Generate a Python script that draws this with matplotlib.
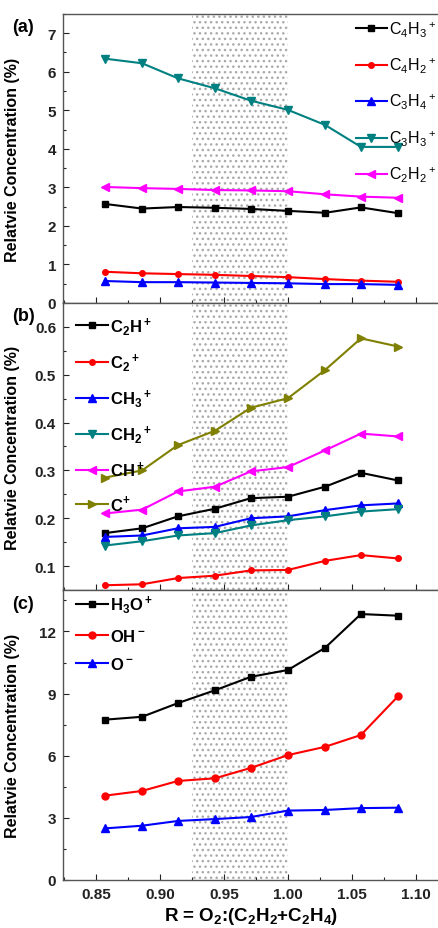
import numpy as np
import matplotlib
matplotlib.use('Agg')
import matplotlib.pyplot as plt
from matplotlib.ticker import MultipleLocator

plt.rcParams['font.family'] = ['Liberation Sans', 'DejaVu Sans']
plt.rcParams['hatch.color'] = '#aaaaaa'
plt.rcParams['hatch.linewidth'] = 1.0

# R = O2:(C2H2+C2H4)
ratio = [0.857, 0.886, 0.914, 0.943, 0.971, 1.000, 1.029, 1.057, 1.086]

# (a) large hydrocarbon ions
c4h3 = [2.57, 2.45, 2.49, 2.47, 2.44, 2.39, 2.34, 2.48, 2.33]
c4h2 = [0.81, 0.77, 0.75, 0.73, 0.70, 0.67, 0.62, 0.58, 0.55]
c3h4 = [0.57, 0.54, 0.54, 0.53, 0.52, 0.51, 0.49, 0.49, 0.47]
c3h3 = [6.34, 6.22, 5.83, 5.57, 5.25, 5.01, 4.62, 4.05, 4.05]
c2h2 = [3.01, 2.98, 2.96, 2.93, 2.92, 2.90, 2.82, 2.76, 2.73]

# (b) small hydrocarbon ions
c2h = [0.169, 0.179, 0.204, 0.220, 0.242, 0.245, 0.266, 0.295, 0.279]
c2 = [0.060, 0.062, 0.075, 0.080, 0.091, 0.092, 0.111, 0.123, 0.116]
ch3 = [0.161, 0.164, 0.179, 0.182, 0.200, 0.204, 0.217, 0.227, 0.231]
ch2 = [0.143, 0.152, 0.164, 0.169, 0.185, 0.196, 0.204, 0.214, 0.219]
ch = [0.210, 0.218, 0.256, 0.266, 0.298, 0.307, 0.342, 0.377, 0.371]
c1 = [0.285, 0.300, 0.353, 0.383, 0.431, 0.451, 0.510, 0.576, 0.559]

# (c) oxygen containing ions
h3o = [7.74, 7.88, 8.54, 9.16, 9.81, 10.14, 11.21, 12.84, 12.76]
oh = [4.07, 4.30, 4.78, 4.91, 5.41, 6.03, 6.43, 7.00, 8.87]
o1 = [2.49, 2.62, 2.85, 2.94, 3.04, 3.35, 3.38, 3.47, 3.49]

shade = (0.925, 1.0)

fig = plt.figure(figsize=(4.39, 9.29), dpi=100)
left, right = 0.1435, 1.0
ax_a = fig.add_axes([left, 0.6728, right - left, 0.9839 - 0.6728])
ax_b = fig.add_axes([left, 0.3638, right - left, 0.6728 - 0.3638])
ax_c = fig.add_axes([left, 0.0517, right - left, 0.3638 - 0.0517])


def style(ax, ylim, major, minor, show_x):
    ax.set_xlim(0.8242, 1.118)
    ax.set_ylim(*ylim)
    ax.axvspan(shade[0], shade[1], facecolor='none', edgecolor='#aaaaaa',
               hatch='...', linewidth=0, zorder=0)
    ax.xaxis.set_major_locator(MultipleLocator(0.05))
    ax.xaxis.set_minor_locator(MultipleLocator(0.025))
    ax.yaxis.set_major_locator(MultipleLocator(major))
    ax.yaxis.set_minor_locator(MultipleLocator(minor))
    ax.tick_params(which='both', direction='in', top=False, right=False,
                   labelsize=11, colors='#222222', pad=5)
    ax.tick_params(which='major', length=4, width=0.8)
    ax.tick_params(which='minor', length=2.5, width=0.8)
    for lab in ax.get_yticklabels() + ax.get_xticklabels():
        lab.set_fontweight('bold')
    ax.spines['right'].set_visible(False)
    for s in ['left', 'top', 'bottom']:
        ax.spines[s].set_color('#555555')
        ax.spines[s].set_linewidth(1.0)
    if not show_x:
        ax.tick_params(axis='x', labelbottom=False)
    ax.set_ylabel('Relatvie Concentration (%)', fontsize=11.5,
                  fontweight='bold')
    ax.yaxis.set_label_coords(-0.115, 0.5)


lw = 1.5
ms = 5

ax_a.plot(ratio, c4h3, '-s', color='black', lw=lw, ms=ms, label=r'$\mathregular{C_4H_3{}^+}$')
ax_a.plot(ratio, c4h2, '-o', color='red', lw=lw, ms=4, label=r'$\mathregular{C_4H_2{}^+}$')
ax_a.plot(ratio, c3h4, '-^', color='blue', lw=lw, ms=ms + 1, label=r'$\mathregular{C_3H_4{}^+}$')
ax_a.plot(ratio, c3h3, '-v', color='#008080', lw=lw, ms=ms + 1, label=r'$\mathregular{C_3H_3{}^+}$')
ax_a.plot(ratio, c2h2, '-<', color='#ff00ff', lw=lw, ms=ms + 1, label=r'$\mathregular{C_2H_2{}^+}$')
style(ax_a, (0, 7.5), 1, 0.5, False)
ax_a.legend(loc='upper left', bbox_to_anchor=(0.75, 1.02), frameon=False,
            fontsize=11.5, handlelength=1.9, handletextpad=0.15,
            labelspacing=1.07, borderpad=0.2)

ax_b.plot(ratio, c2h, '-s', color='black', lw=lw, ms=ms, label=r'$\mathregular{C_2H^+}$')
ax_b.plot(ratio, c2, '-o', color='red', lw=lw, ms=4, label=r'$\mathregular{C_2{}^+}$')
ax_b.plot(ratio, ch3, '-^', color='blue', lw=lw, ms=ms + 1, label=r'$\mathregular{CH_3{}^+}$')
ax_b.plot(ratio, ch2, '-v', color='#008080', lw=lw, ms=ms + 1, label=r'$\mathregular{CH_2{}^+}$')
ax_b.plot(ratio, ch, '-<', color='#ff00ff', lw=lw, ms=ms + 1, label=r'$\mathregular{CH^+}$')
ax_b.plot(ratio, c1, '->', color='#808000', lw=lw, ms=ms + 1, label=r'C$^{\mathregular{+}}$')
style(ax_b, (0.05, 0.65), 0.1, 0.05, False)
ax_b.legend(loc='upper left', bbox_to_anchor=(0.0, 1.005), frameon=False,
            handlelength=1.9, handletextpad=0.15,
            labelspacing=0.85, borderpad=0.3,
            prop={'weight': 'bold', 'size': 12})

ax_c.plot(ratio, h3o, '-s', color='black', lw=lw, ms=ms, label=r'$\mathregular{H_3O^+}$')
ax_c.plot(ratio, oh, '-o', color='red', lw=lw, ms=ms, label=r'$\mathregular{OH^-}$')
ax_c.plot(ratio, o1, '-^', color='blue', lw=lw, ms=ms + 1, label=r'$\mathregular{O^-}$')
style(ax_c, (0, 14), 3, 1.5, True)
ax_c.legend(loc='upper left', bbox_to_anchor=(0.0, 1.035), frameon=False,
            handlelength=1.9, handletextpad=0.15, labelspacing=0.75,
            borderpad=0.3, prop={'weight': 'bold', 'size': 12})
ax_c.set_xlabel(r'R = O$\mathregular{_2}$:(C$\mathregular{_2}$H$\mathregular{_2}$+C$\mathregular{_2}$H$\mathregular{_4}$)',
                fontsize=13.5, fontweight='bold', labelpad=3)

for ax, tag in [(ax_a, '(a)'), (ax_b, '(b)'), (ax_c, '(c)')]:
    ax.text(-0.135, 0.955, tag, transform=ax.transAxes, fontsize=13,
            fontweight='bold', ha='left', va='center')

fig.savefig('out.png', dpi=100)
